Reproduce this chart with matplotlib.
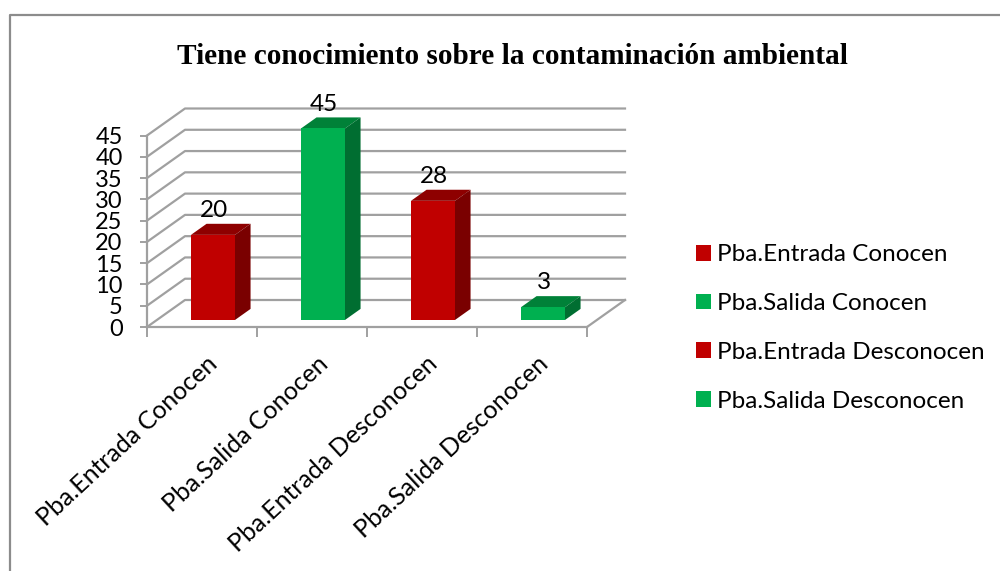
import matplotlib
matplotlib.use('Agg')
import matplotlib.pyplot as plt
from matplotlib.lines import Line2D
from matplotlib.patches import Patch, Polygon

categories = ['Pba.Entrada Conocen', 'Pba.Salida Conocen', 'Pba.Entrada Desconocen', 'Pba.Salida Desconocen']
values = [20, 45, 28, 3]
yticks = [0, 5, 10, 15, 20, 25, 30, 35, 40, 45]

red = ['#C00000', '#8E0000', '#7A0000']
green = ['#00B050', '#008138', '#006E31']
bar_colors = [red, green, red, green]
grid_color = '#A0A0A0'

W, H = 1000, 571
fig = plt.figure(figsize=(W / 100, H / 100), dpi=100)
plt.rcParams['font.family'] = ['Lato', 'DejaVu Sans']

# frame of the chart area, only top and left are in the picture
fig.add_artist(Line2D([9.5 / W, 9.5 / W, 1], [0, 1 - 14.5 / H, 1 - 14.5 / H], transform=fig.transFigure,
                      color='#8C8C8C', linewidth=1.6))

fig.text(512 / W, 1 - 56 / H, 'Tiene conocimiento sobre la contaminación ambiental',
         family='Liberation Serif', fontweight='bold', fontsize=21.1, ha='center', va='center')

# front plane of the fake 3D box
ax = fig.add_axes([147 / W, 1 - 327 / H, 440 / W, 191.5 / H])
ax.set_xlim(0, 4)
ax.set_ylim(0, 45)
ax.patch.set_visible(False)

# depth of the box in data units
dx = 38 / 110
dy = 27 / (191.5 / 45)


def proj(x, y, z):
    return (x + z * dx, y + z * dy)


# walls
for t in yticks:
    ax.plot([proj(0, t, 0)[0], proj(0, t, 1)[0], proj(4, t, 1)[0]],
            [proj(0, t, 0)[1], proj(0, t, 1)[1], proj(4, t, 1)[1]],
            color=grid_color, lw=1.6, clip_on=False, zorder=1)
ax.plot([proj(4, 0, 0)[0], proj(4, 0, 1)[0]], [proj(4, 0, 0)[1], proj(4, 0, 1)[1]],
        color=grid_color, lw=1.6, clip_on=False, zorder=1)

# bars
z0, z1 = 0.26, 0.67
w = 0.4
for i, v in enumerate(values):
    c = bar_colors[i]
    x0 = i + 0.5 - w / 2 + 0.01
    x1 = x0 + w
    ax.add_patch(Polygon([proj(x0, 0, z0), proj(x1, 0, z0), proj(x1, v, z0), proj(x0, v, z0)],
                         closed=True, fc=c[0], ec='none', clip_on=False, zorder=4))
    ax.add_patch(Polygon([proj(x0, v, z0), proj(x1, v, z0), proj(x1, v, z1), proj(x0, v, z1)],
                         closed=True, fc=c[1], ec='none', clip_on=False, zorder=3))
    ax.add_patch(Polygon([proj(x1, 0, z0), proj(x1, 0, z1), proj(x1, v, z1), proj(x1, v, z0)],
                         closed=True, fc=c[2], ec='none', clip_on=False, zorder=3))
    lx, ly = proj(x0 + w / 2, v, z1)
    ax.annotate(str(v), (lx, ly), xytext=(-10.5, 2), textcoords='offset points', ha='center', va='bottom',
                fontsize=17.5, color='black', annotation_clip=False, zorder=5)

for s in ['top', 'right']:
    ax.spines[s].set_visible(False)
for s in ['left', 'bottom']:
    ax.spines[s].set_color(grid_color)
    ax.spines[s].set_linewidth(1.6)

ax.set_yticks(yticks)
ax.set_yticklabels([str(t) for t in yticks], fontsize=17)
ax.tick_params(axis='y', length=5, width=1.4, color=grid_color, pad=12.5)
ax.set_xticks(range(5))
ax.set_xticklabels([])
ax.tick_params(axis='x', length=7, width=1.4, color=grid_color)
ax.set_xticks([i + 0.54 for i in range(4)], minor=True)
ax.set_xticklabels(categories, minor=True, rotation=43, ha='right', va='top',
                   rotation_mode='anchor', fontsize=18)
ax.tick_params(axis='x', which='minor', length=0, pad=18)

handles = [Patch(fc=c[0], ec='none') for c in bar_colors]
fig.legend(handles, categories, loc='center left', bbox_to_anchor=(696 / W, 1 - 328 / H),
           frameon=False, fontsize=17.5, handlelength=0.62, handleheight=0.62,
           handletextpad=0.25, labelspacing=1.14, borderpad=0, borderaxespad=0)

fig.savefig('out.png', dpi=100)
